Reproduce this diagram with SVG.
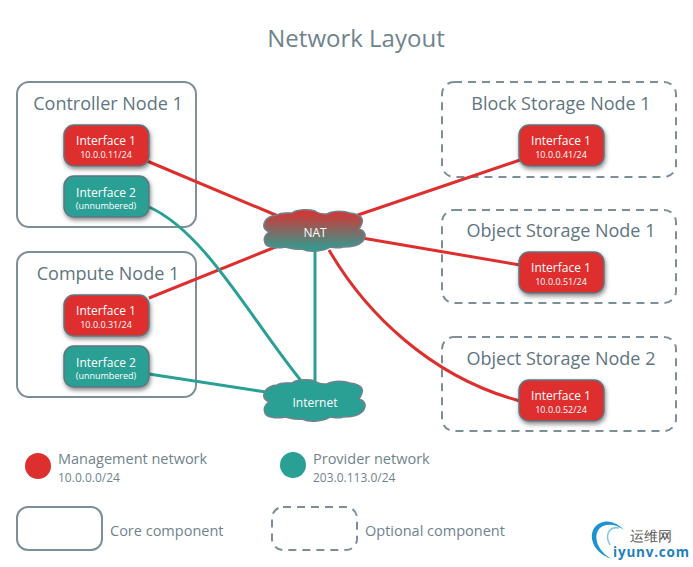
<svg xmlns="http://www.w3.org/2000/svg" width="693" height="567" viewBox="0 0 693 567">
<style>
text{font-family:"Open Sans","Noto Sans","DejaVu Sans",sans-serif}
.box{fill:#fff;stroke:#7c8f99;stroke-width:2}
.opt{stroke-dasharray:8 6}
.ttl{font-size:18px;fill:#607580;text-anchor:middle}
.if1{font-size:12px;fill:#fff;text-anchor:middle}
.if2{font-size:9px;fill:#fff;text-anchor:middle}
.leg{font-size:14.5px;fill:#6f838d}
.sub{font-size:12px;fill:#6f838d}
.r{fill:#de2f2f;stroke:#5f7480;stroke-width:1.5}
.t{fill:#2aa095;stroke:#5f7480;stroke-width:1.5}
.lr{fill:none;stroke:#de2f2f;stroke-width:3}
.lt{fill:none;stroke:#2aa095;stroke-width:3}
.cl{stroke:#6f838d;stroke-width:1.5}
</style>
<defs>
<filter id="sh" x="-20%" y="-20%" width="140%" height="150%"><feDropShadow dx="1" dy="2.5" stdDeviation="2" flood-color="#000" flood-opacity=".45"/></filter>
<linearGradient id="g" x1="0" y1="0" x2="0" y2="1"><stop offset="0" stop-color="#de2f2f"/><stop offset="1" stop-color="#2aa095"/></linearGradient>
<path id="cloud" d="M264 224C265 218 273 215 277 215C281 212 288 213 292 213C297 209 309 209 315 211C319 214 324 214 327 214C334 210 345 211 350 213C358 214 364 217 362 223C361 226 360 228 359 229C366 231 367 237 362 242C358 246 348 247 343 247C337 249 332 247 330 247C325 251 310 253 302 249C296 250 290 248 285 247C276 249 266 247 265 243C263 238 266 234 269 232C265 230 263 227 264 224Z"/>
</defs>
<text x="356" y="47" font-size="24" fill="#6f838d" text-anchor="middle">Network Layout</text>

<g id="controller-node"><rect class="box" x="17" y="82" width="179" height="145" rx="12"/><text class="ttl" x="108" y="110">Controller Node 1</text></g>
<g id="compute-node"><rect class="box" x="17" y="252" width="179" height="145" rx="12"/><text class="ttl" x="108" y="280">Compute Node 1</text></g>
<g id="block-node"><rect class="box opt" x="442" y="82" width="234" height="95" rx="12"/><text class="ttl" x="561" y="110">Block Storage Node 1</text></g>
<g id="object-node-1"><rect class="box opt" x="442" y="210" width="234" height="93" rx="12"/><text class="ttl" x="561" y="237">Object Storage Node 1</text></g>
<g id="object-node-2"><rect class="box opt" x="442" y="337" width="234" height="94" rx="12"/><text class="ttl" x="561" y="365">Object Storage Node 2</text></g>

<g id="connectors">
<path class="lr" d="M147 161L278 216"/>
<path class="lr" d="M149 298L278 246"/>
<path class="lr" d="M355 216L520 160"/>
<path class="lr" d="M362 238L520 265"/>
<path class="lr" d="M329 250C365 312 430 377 520 401"/>
<path class="lt" d="M149 207C205 232 250 318 302 382"/>
<path class="lt" d="M315 250V381"/>
<path class="lt" d="M149 374L266 392"/>
</g>

<g id="if-c1"><rect class="r" filter="url(#sh)" x="64" y="125" width="85" height="41" rx="10"/><text class="if1" x="106" y="145">Interface 1</text><text class="if2" x="106" y="158">10.0.0.11/24</text></g>
<g id="if-c2"><rect class="t" filter="url(#sh)" x="64" y="176" width="85" height="41" rx="10"/><text class="if1" x="106" y="197">Interface 2</text><text class="if2" x="106" y="209">(unnumbered)</text></g>
<g id="if-k1"><rect class="r" filter="url(#sh)" x="64" y="295" width="85" height="41" rx="10"/><text class="if1" x="106" y="315">Interface 1</text><text class="if2" x="106" y="328">10.0.0.31/24</text></g>
<g id="if-k2"><rect class="t" filter="url(#sh)" x="64" y="346" width="85" height="41" rx="10"/><text class="if1" x="106" y="367">Interface 2</text><text class="if2" x="106" y="379">(unnumbered)</text></g>
<g id="if-b1"><rect class="r" filter="url(#sh)" x="519" y="125" width="85" height="41" rx="10"/><text class="if1" x="561" y="145">Interface 1</text><text class="if2" x="561" y="158">10.0.0.41/24</text></g>
<g id="if-o1"><rect class="r" filter="url(#sh)" x="519" y="252" width="85" height="41" rx="10"/><text class="if1" x="561" y="272">Interface 1</text><text class="if2" x="561" y="285">10.0.0.51/24</text></g>
<g id="if-o2"><rect class="r" filter="url(#sh)" x="519" y="380" width="85" height="41" rx="10"/><text class="if1" x="561" y="400">Interface 1</text><text class="if2" x="561" y="413">10.0.0.52/24</text></g>

<g id="nat"><use href="#cloud" class="cl" fill="url(#g)"/><text x="315" y="237" font-size="12" fill="#fff" text-anchor="middle">NAT</text></g>
<g id="internet"><use href="#cloud" y="170" class="cl" fill="#2aa095"/><text x="315" y="407" font-size="12" fill="#fff" text-anchor="middle">Internet</text></g>

<g id="legend">
<circle cx="38" cy="466" r="13" fill="#de2f2f"/>
<text class="leg" x="58" y="464">Management network</text><text class="sub" x="58" y="482">10.0.0.0/24</text>
<circle cx="293" cy="465" r="13" fill="#2aa095"/>
<text class="leg" x="313" y="464">Provider network</text><text class="sub" x="313" y="482">203.0.113.0/24</text>
<rect class="box" x="17" y="507" width="85" height="43" rx="11"/>
<text class="leg" x="110" y="536">Core component</text>
<rect class="box opt" x="272" y="507" width="85" height="43" rx="11"/>
<text class="leg" x="365" y="536">Optional component</text>
</g>

<g id="watermark">
<path d="M612 559C590 552 586 530 600 523C608 519 618 523 624 530C616 524 606 523 600 528C592 536 598 552 612 559Z" fill="#1d93d2"/>
<path d="M610 545C604 534 610 526 619 528" fill="none" stroke="#7cc4e8" stroke-width="1.5"/>
<text x="630" y="541" font-size="14" fill="#555" font-family="'Noto Sans CJK SC',sans-serif">运维网</text>
<text x="613" y="557" font-size="13.5" font-weight="bold" fill="#1f7fc0" font-family="'DejaVu Sans',sans-serif" textLength="76">iyunv.com</text>
</g>
</svg>
